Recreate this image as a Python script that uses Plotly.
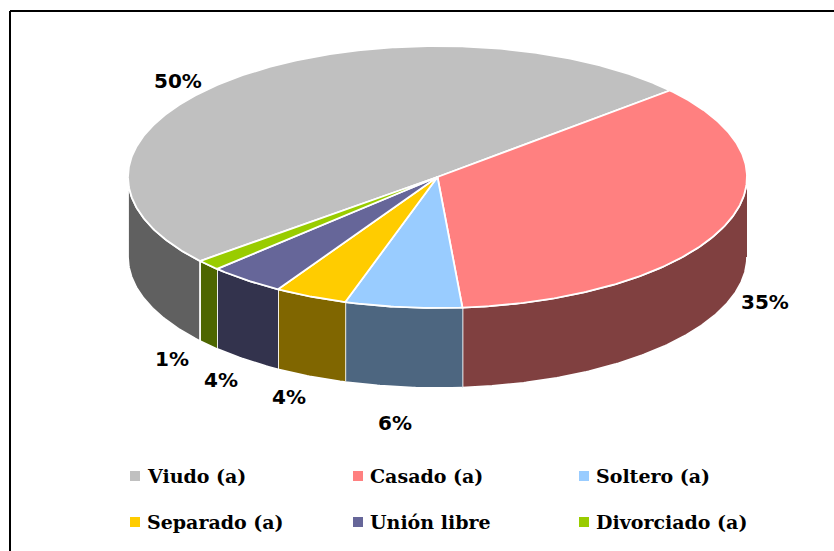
import math
import plotly.graph_objects as go

categories = ["Viudo (a)", "Casado (a)", "Soltero (a)", "Separado (a)", "Unión libre", "Divorciado (a)"]
values = [49.6, 35.2, 6.1, 3.8, 4.0, 1.3]
pct_labels = ["50%", "35%", "6%", "4%", "4%", "1%"]
top_colors = ["#C0C0C0", "#FF8080", "#99CCFF", "#FFCC00", "#666699", "#99CC00"]
side_colors = ["#606060", "#804040", "#4D6680", "#806600", "#33334D", "#4D6600"]

# Layout constants (pixels of the 834x551 canvas)
CX, CY, RX, RY, DEPTH = 437.5, 177.0, 309.5, 131.0, 80.0
FIRST_ANGLE = 230.1  # clockwise from 12 o'clock, where the first slice starts
LABEL_XY = [(178, 81), (765, 302), (395, 423), (289, 397), (221, 380), (172, 359)]
LEGEND_XY = [(135, 476), (358, 476), (584, 476), (135, 522), (358, 522), (584, 522)]
LEGEND_TEXT_GAP = 10


def rim(theta, drop=0.0):
    r = math.radians(theta)
    return CX + RX * math.sin(r), CY - RY * math.cos(r) + drop


def arc(a, b, drop=0.0):
    n = max(2, int(abs(b - a) * 2) + 1)
    return [rim(a + (b - a) * i / (n - 1), drop) for i in range(n)]


total = sum(values)
spans = []
angle = FIRST_ANGLE
for v in values:
    sweep = 360.0 * v / total
    spans.append((angle, angle + sweep))
    angle += sweep

fig = go.Figure()


def poly(points, fill, width=1.8):
    fig.add_trace(go.Scatter(
        x=[p[0] for p in points], y=[p[1] for p in points],
        mode="lines", fill="toself", fillcolor=fill,
        line=dict(color="white", width=width), hoverinfo="skip", showlegend=False))


# Side walls: only the part of each slice facing the viewer (90 to 270 degrees, modulo 360)
for (a, b), col in zip(spans, side_colors):
    for shift in (0, -360):
        lo, hi = max(a + shift, 90), min(b + shift, 270)
        if hi > lo:
            poly(arc(lo, hi) + arc(hi, lo, DEPTH), col)

# Top faces
for (a, b), col in zip(spans, top_colors):
    poly([(CX, CY)] + arc(a, b) + [(CX, CY)], col)

# Percentage labels
for txt, (x, y) in zip(pct_labels, LABEL_XY):
    fig.add_annotation(x=x, y=y, text="<b>" + txt + "</b>", showarrow=False, xanchor="center", yanchor="middle",
                       font=dict(family="DejaVu Sans", size=20, color="black"))

# Legend
for name, col, (x, y) in zip(categories, top_colors, LEGEND_XY):
    fig.add_trace(go.Scatter(x=[x], y=[y], mode="markers",
                             marker=dict(symbol="square", size=10, color=col),
                             hoverinfo="skip", showlegend=False))
    fig.add_annotation(x=x + LEGEND_TEXT_GAP, y=y, text="<b>" + name + "</b>", showarrow=False,
                       xanchor="left", yanchor="middle",
                       font=dict(family="DejaVu Serif", size=19, color="black"))

# Chart frame: left and top edges
fig.add_shape(type="line", x0=10, x1=10, y0=11, y1=551, line=dict(color="black", width=2))
fig.add_shape(type="line", x0=10, x1=834, y0=11, y1=11, line=dict(color="black", width=2))

fig.update_layout(
    width=834, height=551, margin=dict(l=0, r=0, t=0, b=0),
    paper_bgcolor="white", plot_bgcolor="white",
    xaxis=dict(range=[0, 834], visible=False, fixedrange=True),
    yaxis=dict(range=[551, 0], visible=False, fixedrange=True),
)
fig.write_html("out.html", config=dict(displayModeBar=False),
               post_script="document.body.style.margin='0';document.body.style.overflow='hidden';")
